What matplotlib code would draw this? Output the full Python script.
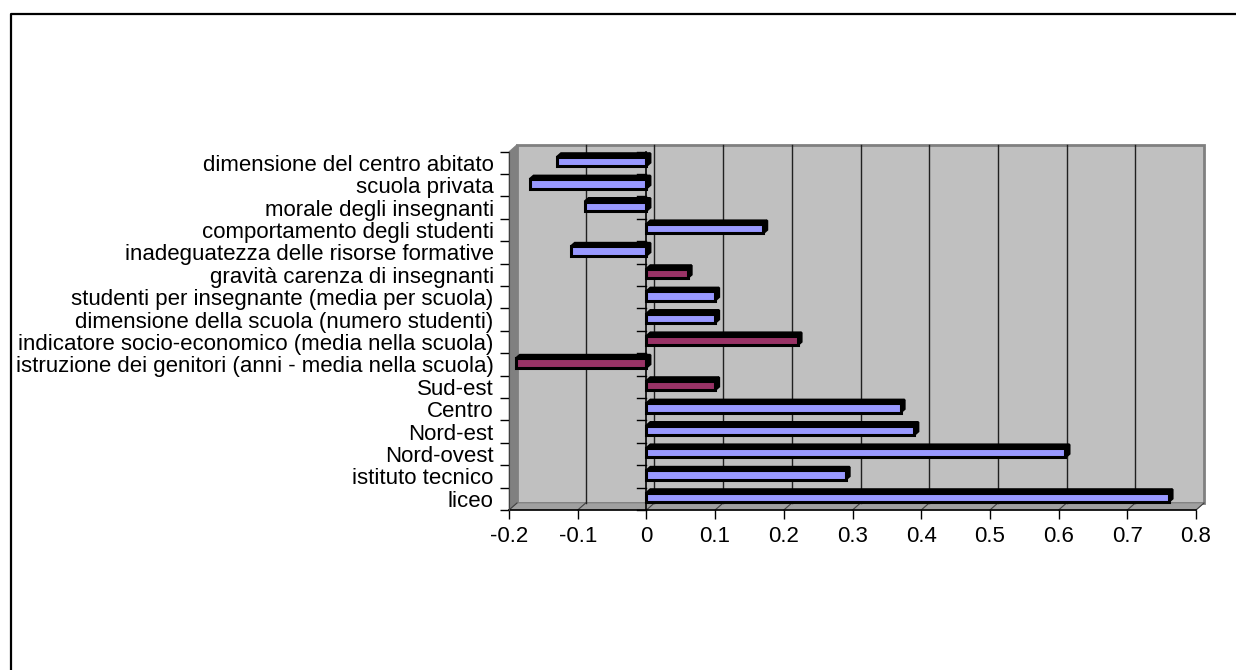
import numpy as np
import matplotlib.pyplot as plt
from matplotlib.patches import Polygon, Rectangle
from matplotlib.lines import Line2D

plt.rcParams['font.family'] = ['Liberation Sans', 'DejaVu Sans']

# categories listed top to bottom as they appear on the chart
categories = [
    'dimensione del centro abitato',
    'scuola privata',
    'morale degli insegnanti',
    'comportamento degli studenti',
    'inadeguatezza delle risorse formative',
    'gravità carenza di insegnanti',
    'studenti per insegnante (media per scuola)',
    'dimensione della scuola (numero studenti)',
    'indicatore socio-economico (media nella scuola)',
    'istruzione dei genitori (anni - media nella scuola)',
    'Sud-est',
    'Centro',
    'Nord-est',
    'Nord-ovest',
    'istituto tecnico',
    'liceo',
]
values = [-0.13, -0.17, -0.09, 0.17, -0.11, 0.06, 0.10, 0.10,
          0.22, -0.19, 0.10, 0.37, 0.39, 0.61, 0.29, 0.76]
highlighted = ['gravità carenza di insegnanti',
               'indicatore socio-economico (media nella scuola)',
               'istruzione dei genitori (anni - media nella scuola)',
               'Sud-est']
xticks = [-0.2, -0.1, 0, 0.1, 0.2, 0.3, 0.4, 0.5, 0.6, 0.7, 0.8]

BLUE = '#9999ff'
PLUM = '#993366'
WALL = '#c0c0c0'

W, H = 1236, 670
fig = plt.figure(figsize=(W / 100, H / 100), dpi=100)

# front face of the plot area in pixels
px_l, px_r, px_t, px_b = 509, 1196, 151.6, 510
ax = fig.add_axes([px_l / W, (H - px_b) / H, (px_r - px_l) / W, (px_b - px_t) / H])
xmin, xmax = xticks[0], xticks[-1]
n = len(categories)
ax.set_xlim(xmin, xmax)
ax.set_ylim(-0.5, n - 0.5)
ax.set_facecolor('none')

ux = (px_r - px_l) / (xmax - xmin)   # pixels per x unit
uy = (px_b - px_t) / n               # pixels per category

# depth of the walls and of the bars, in data units
wdx, wdy = 8 / ux, 7 / uy
bdx, bdy = 4 / ux, 3.5 / uy

y0, y1 = -0.5, n - 0.5

# back wall, left wall and floor
ax.add_patch(Rectangle((xmin + wdx, y0 + wdy), xmax - xmin, n, facecolor=WALL,
                       edgecolor='#808080', lw=2, zorder=0, clip_on=False))
ax.add_patch(Polygon([(xmin, y0), (xmin, y1), (xmin + wdx, y1 + wdy), (xmin + wdx, y0 + wdy)],
                     closed=True, facecolor='#808080', edgecolor='#808080', lw=0.5,
                     zorder=0.5, clip_on=False))
ax.add_patch(Polygon([(xmin, y0), (xmax, y0), (xmax + wdx, y0 + wdy), (xmin + wdx, y0 + wdy)],
                     closed=True, facecolor='#a0a0a0', edgecolor='#808080', lw=0.5,
                     zorder=0.5, clip_on=False))

# gridlines on the back wall and stubs on the floor
for v in xticks[1:-1]:
    ax.plot([v + wdx, v + wdx], [y0 + wdy, y1 + wdy], color='#202020', lw=1,
            zorder=1, clip_on=False)
for v in xticks:
    ax.plot([v, v + wdx], [y0, y0 + wdy], color='#404040', lw=0.8,
            zorder=1, clip_on=False)

# 3D bars
for i, (cat, val) in enumerate(zip(categories, values)):
    c = n - 1 - i + 0.06
    lo, hi = c - 0.21, c + 0.21
    a, b = min(0, val), max(0, val)
    col = PLUM if cat in highlighted else BLUE
    top = Polygon([(a, hi), (b, hi), (b + bdx, hi + bdy), (a + bdx, hi + bdy)],
                  closed=True, facecolor='black', edgecolor='black', lw=1.5, zorder=3)
    side = Polygon([(b, lo), (b, hi), (b + bdx, hi + bdy), (b + bdx, lo + bdy)],
                   closed=True, facecolor='black', edgecolor='black', lw=1.5, zorder=3)
    front = Rectangle((a, lo), b - a, hi - lo, facecolor=col, edgecolor='black',
                      lw=2.2, zorder=4)
    for p in (top, side, front):
        ax.add_patch(p)

# category axis drawn through zero
ax.plot([0, 0], [y0, y1], color='black', lw=1.2, zorder=5, clip_on=False)
for k in range(n + 1):
    yb = k - 0.5
    ax.plot([0 - 9 / ux, 0], [yb, yb], color='black', lw=1, zorder=5, clip_on=False)

for s in ('top', 'right'):
    ax.spines[s].set_visible(False)
ax.spines['left'].set_color('#404040')
ax.spines['bottom'].set_linewidth(1.2)
ax.spines['left'].set_zorder(6)

ax.set_xticks(xticks)
ax.set_xticklabels(['%g' % v for v in xticks], fontsize=16)
ax.tick_params(axis='x', direction='out', length=6.5, width=1, pad=5)

ax.set_yticks(np.arange(n))
ax.set_yticklabels(categories[::-1], fontsize=16)
ax.set_yticks(np.arange(n + 1) - 0.5, minor=True)
ax.tick_params(axis='y', which='major', length=0, pad=11)
ax.tick_params(axis='y', which='minor', direction='out', length=6.5, width=1)

# chart frame
fig.add_artist(Line2D([11 / W, 11 / W, 1], [0, 1 - 14 / H, 1 - 14 / H],
                      color='black', lw=1.6))

fig.savefig('out.png', dpi=100)
